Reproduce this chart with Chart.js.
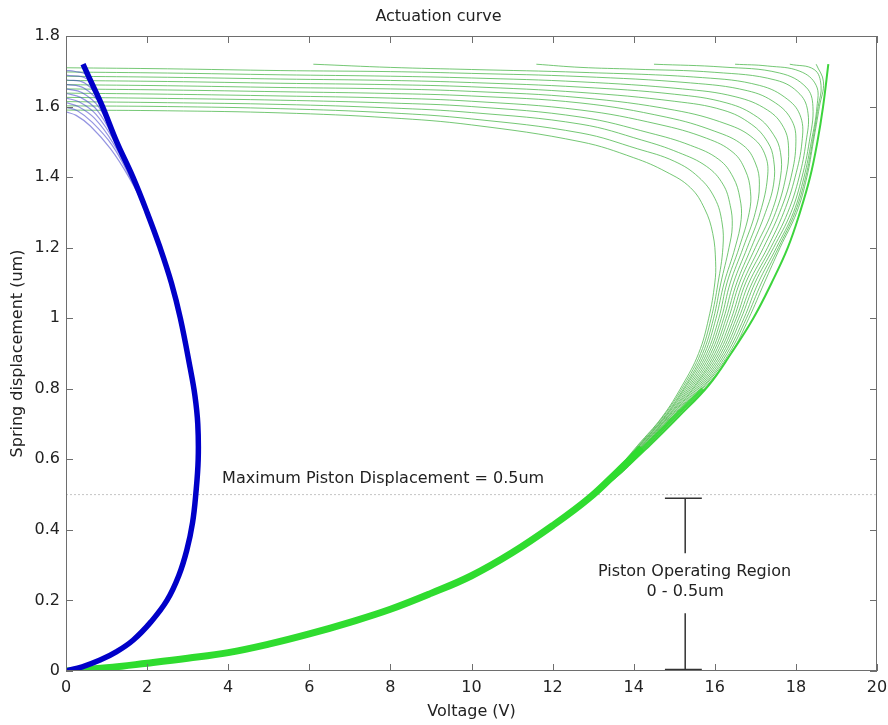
<!DOCTYPE html>
<html>
<head>
<meta charset="utf-8">
<title>Actuation curve</title>
<script src="https://cdn.jsdelivr.net/npm/chart.js@4.4.1/dist/chart.umd.min.js"></script>
<style>
  html, body { margin: 0; padding: 0; background: #fff; }
</style>
</head>
<body>
<canvas id="chart" width="888" height="725"></canvas>
<script>
// ---- data: [voltage (V), displacement (um)] ----

// blue family: common lower part, outer edge, and the fanned tails near the top
const blueLower = [[0,0],[0.4,0.012],[0.84,0.031],[1.25,0.055],[1.66,0.088],[2.1,0.14],[2.49,0.2],[2.78,0.27],
  [2.98,0.343],[3.12,0.42],[3.2,0.5],[3.26,0.6],[3.25,0.7],[3.18,0.78],[3.06,0.86],[2.82,1.0],[2.6,1.1],[2.32,1.2],[2.0,1.3]];
const blueTop = [[1.65,1.4],[1.25,1.5],[0.9,1.6],[0.62,1.67],[0.42,1.72]];
const blueTails = [
  [[1.55,1.4],[1.1,1.48],[0.6,1.545],[0.25,1.575],[0,1.585]],
  [[1.58,1.4],[1.14,1.49],[0.65,1.555],[0.28,1.588],[0,1.598]],
  [[1.6,1.4],[1.17,1.495],[0.7,1.567],[0.3,1.6],[0,1.611]],
  [[1.61,1.4],[1.2,1.5],[0.74,1.578],[0.33,1.613],[0,1.624]],
  [[1.62,1.4],[1.22,1.5],[0.78,1.588],[0.36,1.626],[0,1.637]],
  [[1.63,1.4],[1.23,1.5],[0.82,1.597],[0.39,1.64],[0,1.65]],
  [[1.64,1.4],[1.24,1.5],[0.85,1.605],[0.43,1.653],[0,1.663]],
  [[1.65,1.4],[1.25,1.5],[0.87,1.61],[0.47,1.666],[0,1.676]],
  [[1.65,1.4],[1.25,1.5],[0.89,1.61],[0.52,1.678],[0,1.689]],
  [[1.65,1.4],[1.25,1.5],[0.9,1.6],[0.56,1.686],[0.2,1.7],[0,1.702]]
];

// green family: common lower part, then one tail per curve (inner to outer)
const greenBase = [[0,0],[1,0.009],[2,0.022],[3,0.036],[4,0.052],[5,0.076],[6,0.105],[7,0.138],[8,0.175],
  [9,0.22],[10,0.27],[11,0.335],[12,0.412],[12.9,0.49]];
const greenBandTail = [[13.6,0.565],[14.2,0.632]];
const greenTaper = [[12.9,0.49],[13.6,0.565],[14.3,0.64],[15.0,0.72],[15.7,0.8]];
const greenTails = [
  [[13.5,0.56],[14.1,0.64],[14.7,0.72],[15.2,0.81],[15.6,0.9],[15.85,1.0],[16.0,1.1],[16.02,1.16],[15.95,1.24],[15.75,1.31],[15.4,1.37],[14.8,1.415],[14.0,1.455],[12.7,1.5],[10,1.548],[8,1.568],[5.3,1.582],[2.5,1.588],[0,1.59]],
  [[13.51,0.56],[14.12,0.64],[14.72,0.72],[15.24,0.81],[15.65,0.9],[15.91,1.0],[16.08,1.1],[16.2,1.2],[16.18,1.27],[16.0,1.34],[15.6,1.4],[15.0,1.445],[14.1,1.48],[12.7,1.525],[10,1.565],[8,1.582],[5.3,1.594],[2.5,1.6],[0,1.602]],
  [[13.52,0.56],[14.14,0.64],[14.75,0.72],[15.28,0.81],[15.7,0.9],[15.97,1.0],[16.15,1.1],[16.35,1.2],[16.43,1.26],[16.38,1.32],[16.2,1.38],[15.8,1.43],[15.1,1.47],[14.2,1.505],[12.7,1.55],[10,1.583],[8,1.596],[5.3,1.606],[2.5,1.611],[0,1.614]],
  [[13.54,0.56],[14.15,0.64],[14.77,0.72],[15.31,0.81],[15.75,0.9],[16.03,1.0],[16.23,1.1],[16.5,1.2],[16.65,1.28],[16.62,1.34],[16.45,1.4],[16.1,1.45],[15.4,1.49],[14.4,1.525],[12.7,1.57],[10,1.6],[8,1.61],[5.3,1.618],[2.5,1.623],[0,1.626]],
  [[13.55,0.56],[14.17,0.64],[14.79,0.72],[15.35,0.81],[15.8,0.9],[16.1,1.0],[16.3,1.1],[16.6,1.2],[16.85,1.3],[16.88,1.36],[16.75,1.42],[16.45,1.47],[15.8,1.51],[14.6,1.55],[12.7,1.59],[10,1.615],[8,1.624],[5.3,1.63],[2.5,1.635],[0,1.638]],
  [[13.56,0.56],[14.19,0.64],[14.82,0.72],[15.39,0.81],[15.85,0.9],[16.16,1.0],[16.38,1.1],[16.7,1.2],[17.0,1.3],[17.1,1.38],[17.0,1.44],[16.7,1.49],[16.0,1.53],[14.8,1.57],[12.7,1.61],[10,1.63],[8,1.637],[5.3,1.642],[2.5,1.647],[0,1.65]],
  [[13.57,0.56],[14.21,0.64],[14.84,0.72],[15.43,0.81],[15.9,0.9],[16.22,1.0],[16.46,1.1],[16.8,1.2],[17.12,1.3],[17.3,1.4],[17.25,1.46],[16.95,1.51],[16.3,1.55],[15.0,1.59],[12.7,1.625],[10,1.643],[8,1.65],[5.3,1.654],[2.5,1.659],[0,1.662]],
  [[13.58,0.56],[14.22,0.64],[14.86,0.72],[15.47,0.81],[15.95,0.9],[16.28,1.0],[16.54,1.1],[16.9,1.2],[17.25,1.3],[17.45,1.38],[17.45,1.45],[17.3,1.5],[16.9,1.55],[16.2,1.59],[15.0,1.615],[12.7,1.64],[10,1.656],[8,1.662],[5.3,1.666],[2.5,1.671],[0,1.674]],
  [[13.59,0.56],[14.24,0.64],[14.89,0.72],[15.51,0.81],[16.0,0.9],[16.34,1.0],[16.61,1.1],[17.0,1.2],[17.4,1.3],[17.62,1.4],[17.62,1.47],[17.45,1.52],[17.05,1.57],[16.3,1.61],[15.0,1.635],[12.7,1.655],[10,1.668],[8,1.674],[5.3,1.678],[2.5,1.683],[0,1.686]],
  [[13.61,0.56],[14.26,0.64],[14.91,0.72],[15.54,0.81],[16.05,0.9],[16.41,1.0],[16.69,1.1],[17.1,1.2],[17.5,1.3],[17.75,1.4],[17.82,1.48],[17.7,1.54],[17.3,1.59],[16.5,1.628],[15.2,1.65],[12.7,1.67],[10,1.681],[8,1.686],[5.3,1.69],[2.5,1.695],[0,1.698]],
  [[13.62,0.56],[14.28,0.64],[14.94,0.72],[15.58,0.81],[16.1,0.9],[16.47,1.0],[16.76,1.1],[17.2,1.2],[17.6,1.3],[17.88,1.4],[18.0,1.5],[17.9,1.56],[17.5,1.61],[16.8,1.645],[15.4,1.667],[12.7,1.685],[10,1.694],[8,1.699],[5.3,1.702],[2.5,1.707],[0,1.71]],
  [[13.63,0.56],[14.29,0.64],[14.96,0.72],[15.62,0.81],[16.15,0.9],[16.53,1.0],[16.84,1.1],[17.3,1.2],[17.7,1.3],[17.98,1.4],[18.15,1.5],[18.12,1.57],[17.8,1.62],[17.1,1.66],[15.7,1.682],[12.7,1.697],[10,1.705],[8,1.711],[6.1,1.72]],
  [[13.64,0.56],[14.31,0.64],[14.98,0.72],[15.66,0.81],[16.2,0.9],[16.59,1.0],[16.92,1.1],[17.38,1.2],[17.8,1.3],[18.08,1.4],[18.25,1.5],[18.3,1.58],[18.1,1.635],[17.5,1.675],[16.0,1.697],[14,1.706],[12.7,1.711],[11.6,1.72]],
  [[13.65,0.56],[14.33,0.64],[15.01,0.72],[15.7,0.81],[16.25,0.9],[16.65,1.0],[16.99,1.1],[17.45,1.2],[17.88,1.3],[18.15,1.4],[18.33,1.5],[18.42,1.6],[18.25,1.655],[17.6,1.695],[16.2,1.712],[14.5,1.72]],
  [[13.66,0.56],[14.35,0.64],[15.03,0.72],[15.74,0.81],[16.3,0.9],[16.72,1.0],[17.07,1.1],[17.52,1.2],[17.94,1.3],[18.2,1.4],[18.38,1.5],[18.52,1.6],[18.5,1.66],[18.1,1.7],[17.3,1.715],[16.5,1.72]],
  [[13.68,0.56],[14.36,0.64],[15.05,0.72],[15.77,0.81],[16.35,0.9],[16.78,1.0],[17.15,1.1],[17.57,1.2],[17.98,1.3],[18.24,1.4],[18.41,1.5],[18.55,1.6],[18.62,1.66],[18.45,1.705],[17.85,1.72]],
  [[13.69,0.56],[14.38,0.64],[15.08,0.72],[15.81,0.81],[16.4,0.9],[16.84,1.0],[17.22,1.1],[17.61,1.2],[18.02,1.3],[18.27,1.4],[18.43,1.5],[18.58,1.6],[18.68,1.67],[18.5,1.72]]
];
const greenOuterTail = [[13.7,0.565],[14.4,0.64],[15.1,0.72],[15.85,0.81],[16.4,0.9],[16.95,1.0],[17.4,1.1],[17.8,1.2],[18.1,1.3],[18.35,1.4],[18.53,1.5],[18.67,1.6],[18.8,1.72]];

// annotations
const maxLine = [[0,0.5],[20,0.5]];
const opUpper = [[15.27,0.49],[15.27,0.334]];
const opLower = [[15.27,0.164],[15.27,0.004]];
const opTopCap = [[14.77,0.49],[15.68,0.49]];
const opBottomCap = [[14.77,0.004],[15.68,0.004]];

const FONT = 'DejaVu Sans';
const TEXT = '#222';

const pts = arr => arr.map(([x, y]) => ({ x, y }));

function line(data, color, width, extra) {
    return Object.assign({
        data: pts(data),
        showLine: true,
        borderColor: color,
        borderWidth: width,
        pointRadius: 0,
        tension: 0.4,
        fill: false
    }, extra || {});
}

const datasets = [];
// index 0 is drawn on top, so the heavy bands come first
datasets.push(line(blueLower.concat(blueTop), '#0000c8', 5.5));
datasets.push(line(greenBase.concat(greenBandTail), '#2fdc2f', 7));
datasets.push(line(greenTaper, 'rgba(47,220,47,0.8)', 3.5));
datasets.push(line(greenBase.concat(greenOuterTail), '#3cd43c', 2));
[opUpper, opLower, opTopCap, opBottomCap].forEach(seg => {
    datasets.push(line(seg, '#333', 1.5, { tension: 0 }));
});
datasets.push(line(maxLine, '#c4c4c4', 1, { tension: 0, borderDash: [2, 2] }));
blueTails.forEach(t => {
    datasets.push(line(blueLower.concat(t), 'rgba(60,60,200,0.55)', 1.2));
});
greenTails.forEach(t => {
    datasets.push(line(greenBase.concat(t), 'rgba(70,180,70,0.75)', 1));
});

// axes box, inward ticks (MATLAB style) and the text notes
const notes = [
    { text: 'Maximum Piston Displacement = 0.5um', x: 3.85, y: 0.544, align: 'left' },
    { text: 'Piston Operating Region', x: 15.5, y: 0.28, align: 'center' },
    { text: '0 - 0.5um', x: 15.27, y: 0.224, align: 'center' }
];

const frame = {
    id: 'frame',
    afterDatasetsDraw(chart) {
        const { ctx, chartArea: a, scales: { x, y } } = chart;
        ctx.save();
        ctx.strokeStyle = '#6e6e6e';
        ctx.lineWidth = 1;
        ctx.beginPath();
        x.ticks.forEach(t => {
            const px = Math.round(x.getPixelForValue(t.value)) + 0.5;
            ctx.moveTo(px, a.bottom); ctx.lineTo(px, a.bottom - 7);
            ctx.moveTo(px, a.top); ctx.lineTo(px, a.top + 7);
        });
        y.ticks.forEach(t => {
            const py = Math.round(y.getPixelForValue(t.value)) + 0.5;
            ctx.moveTo(a.left, py); ctx.lineTo(a.left + 7, py);
            ctx.moveTo(a.right, py); ctx.lineTo(a.right - 7, py);
        });
        ctx.stroke();
        ctx.strokeRect(a.left + 0.5, a.top + 0.5, a.width - 1, a.height - 1);

        ctx.fillStyle = TEXT;
        ctx.font = '16px "' + FONT + '"';
        ctx.textBaseline = 'middle';
        notes.forEach(n => {
            ctx.textAlign = n.align;
            ctx.fillText(n.text, x.getPixelForValue(n.x), y.getPixelForValue(n.y));
        });
        ctx.restore();
    }
};

const tickFont = { family: FONT, size: 16 };

new Chart(document.getElementById('chart'), {
    type: 'scatter',
    data: { datasets },
    options: {
        responsive: false,
        animation: false,
        devicePixelRatio: 1,
        layout: { padding: { left: 0, right: 11, top: 0, bottom: 0 } },
        plugins: {
            legend: { display: false },
            tooltip: { enabled: false },
            title: {
                display: true,
                text: 'Actuation curve',
                color: TEXT,
                font: { family: FONT, size: 16, weight: 'normal' },
                padding: { top: 7.4, bottom: 9.4 }
            }
        },
        scales: {
            x: {
                type: 'linear',
                min: 0,
                max: 20,
                ticks: { stepSize: 2, padding: 7.4, color: TEXT, font: tickFont, maxRotation: 0 },
                grid: { display: false, drawTicks: false },
                border: { display: false },
                title: { display: true, text: 'Voltage (V)', color: TEXT, font: tickFont, padding: { top: 0, bottom: 3.4 } },
                afterFit(s) { s.height = 54; s.paddingLeft = 0; s.paddingRight = 0; }
            },
            y: {
                type: 'linear',
                min: 0,
                max: 1.8,
                ticks: {
                    stepSize: 0.2, padding: 6, color: TEXT, font: tickFont,
                    callback: v => String(Math.round(v * 10) / 10)
                },
                grid: { display: false, drawTicks: false },
                border: { display: false },
                title: { display: true, text: 'Spring displacement (um)', color: TEXT, font: tickFont, padding: { top: 8.4, bottom: 0 } },
                afterFit(s) { s.width = 66; s.paddingTop = 0; s.paddingBottom = 0; }
            }
        }
    },
    plugins: [frame]
});
</script>
</body>
</html>
